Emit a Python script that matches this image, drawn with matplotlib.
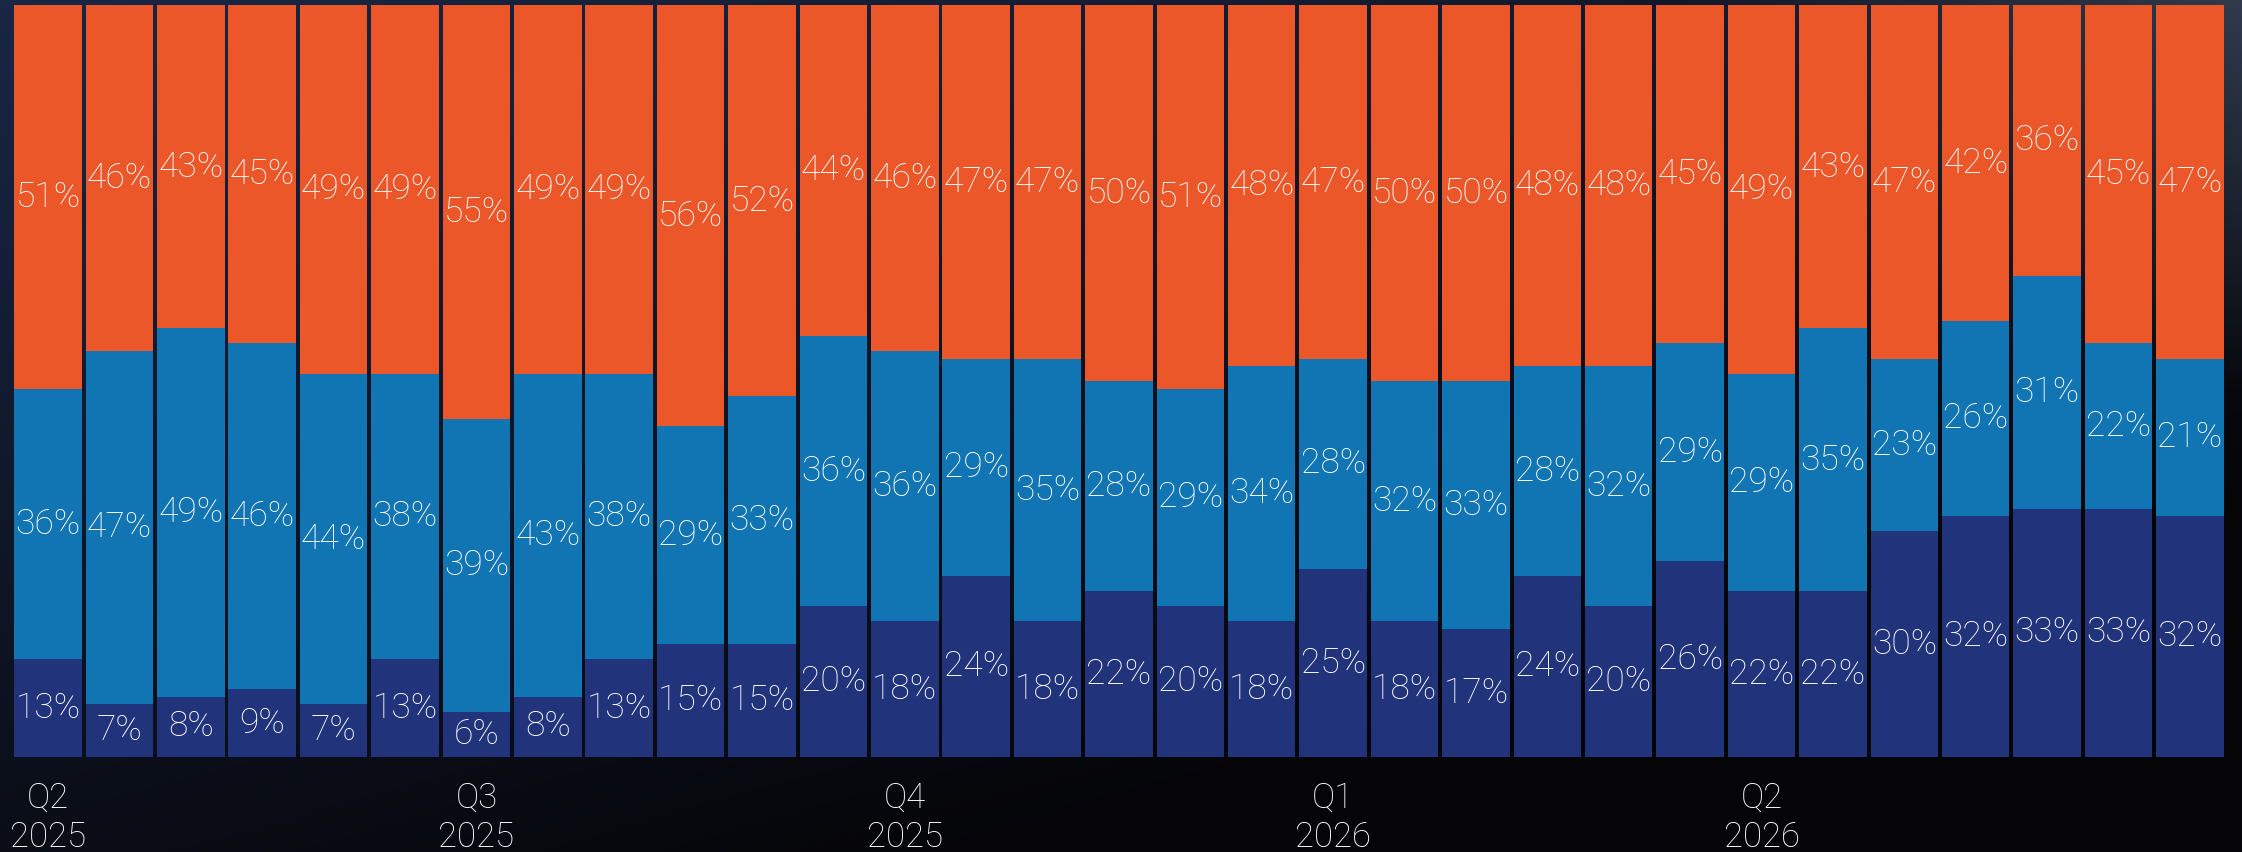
import matplotlib.pyplot as plt
import numpy as np

# share per bar, bottom to top (percent)
low_share = [13, 7, 8, 9, 7, 13, 6, 8, 13, 15, 15, 20, 18, 24, 18, 22, 20, 18, 25, 18, 17, 24, 20, 26, 22, 22, 30, 32, 33, 33, 32]
mid_share = [36, 47, 49, 46, 44, 38, 39, 43, 38, 29, 33, 36, 36, 29, 35, 28, 29, 34, 28, 32, 33, 28, 32, 29, 29, 35, 23, 26, 31, 22, 21]
top_share = [51, 46, 43, 45, 49, 49, 55, 49, 49, 56, 52, 44, 46, 47, 47, 50, 51, 48, 47, 50, 50, 48, 48, 45, 49, 43, 47, 42, 36, 45, 47]

tick_pos = [0, 6, 12, 18, 24]
tick_labels = ["Q2\n2025", "Q3\n2025", "Q4\n2025", "Q1\n2026", "Q2\n2026"]

COLORS = ["#21337A", "#1175B4", "#EC572A"]
FONT = ["Roboto", "DejaVu Sans"]


def draw_background(fig):
    bg = fig.add_axes([0, 0, 1, 1])
    h, w = 200, 500
    yy, xx = np.mgrid[0:1:h * 1j, 0:1:w * 1j]
    # dark navy top-left fading to black bottom-right, slight gray sheen top-right
    navy = np.array([0.10, 0.15, 0.27])
    black = np.array([0.02, 0.02, 0.03])
    gray = np.array([0.28, 0.33, 0.40])
    t = np.clip(0.55 * xx + 0.75 * yy, 0, 1)[..., None]
    img = navy * (1 - t) + black * t
    sheen = np.clip((xx - 0.75) * 4, 0, 1) * np.clip(1 - yy * 2.2, 0, 1)
    img = img * (1 - sheen[..., None] * 0.6) + gray * sheen[..., None] * 0.6
    bg.imshow(img, aspect="auto", extent=[0, 1, 0, 1], origin="upper")
    bg.axis("off")


def main():
    fig = plt.figure(figsize=(22.42, 8.52), dpi=100)
    draw_background(fig)

    ax = fig.add_axes([0.00549, 0.1119, 0.9872, 0.8817])
    ax.patch.set_alpha(0)

    x = np.arange(len(top_share))
    low = np.array(low_share)
    mid = np.array(mid_share)
    top = np.array(top_share)

    bottoms = [np.zeros(len(x)), low, low + mid]
    for vals, base, col in zip([low, mid, top], bottoms, COLORS):
        ax.bar(x, vals, bottom=base, width=0.945, color=col, linewidth=0)
        for xi, v, b in zip(x, vals, base):
            ax.text(xi, b + v / 2, "%d%%" % v, ha="center", va="center",
                    color="white", fontsize=25.5, family=FONT, fontweight="light")

    ax.set_xlim(-0.5, len(x) - 0.5)
    ax.set_ylim(0, 100)
    ax.set_yticks([])
    ax.set_xticks(tick_pos)
    ax.set_xticklabels(tick_labels, color="white", fontsize=25, family=FONT,
                       fontweight="light", linespacing=1.2)
    ax.tick_params(axis="x", length=0, pad=18)
    for s in ax.spines.values():
        s.set_visible(False)

    fig.savefig("out.png", dpi=100)


if __name__ == "__main__":
    main()
